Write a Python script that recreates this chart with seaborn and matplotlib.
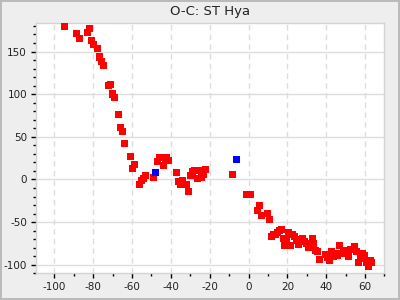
import matplotlib
matplotlib.use("Agg")
import matplotlib.pyplot as plt
import seaborn as sns
import pandas as pd
from matplotlib.ticker import MultipleLocator

# Red (visual) O-C points
red_x = [-94.8, -88.8, -87.2, -83.1, -82.0, -81.0, -80.0, -77.9, -76.9, -75.9, -74.8,
         -72.3, -71.2, -70.2, -69.2, -67.1, -66.1, -65.1, -64.0, -60.9, -59.9, -58.9,
         -56.3, -55.3, -54.2, -53.2, -49.1, -47.0, -46.0, -43.9, -42.9, -42.4, -41.3,
         -37.2, -36.2, -35.2, -34.1, -32.1, -31.0, -30.0, -29.0, -27.9, -26.9, -26.4,
         -25.4, -24.3, -23.3, -22.3, -8.4, -0.9, 1.1, 4.5, 5.6, 6.6, 9.7, 10.7, 11.8,
         12.8, 13.8, 14.8, 15.9, 16.9, 17.9, 18.5, 19.5, 20.5, 21.5, 22.6, 23.6, 24.6,
         25.7, 26.7, 27.7, 28.8, 29.8, 30.8, 32.9, 33.4, 34.4, 35.5, 36.5, 39.6, 40.6,
         41.6, 42.7, 43.7, 44.7, 45.8, 46.8, 47.8, 48.9, 51.4, 52.5, 53.5, 54.5, 55.6,
         56.6, 57.6, 58.7, 59.7, 60.7, 61.8, 62.8, 63.3]
red_y = [179.6, 171.0, 165.0, 172.5, 176.8, 162.8, 158.0, 153.4, 143.6, 138.5, 133.5,
         110.0, 111.2, 100.2, 96.0, 76.1, 60.9, 56.2, 42.1, 26.9, 12.9, 17.6,
         -5.9, -1.2, 1.2, 4.7, 2.3, 21.1, 25.8, 16.4, 22.2, 25.8, 22.2,
         8.2, -2.3, -5.9, -1.2, -5.9, -14.1, 4.7, 9.4, 10.5, 10.5, 1.2,
         10.5, 2.3, 5.9, 11.7, 5.9, -17.6, -17.6, -36.3, -30.4, -42.2, -39.8, -46.8, -66.7,
         -64.4, -64.4, -62.1, -59.7, -58.5, -69.1, -77.3, -69.1, -62.1, -77.3, -64.4, -66.7, -71.4,
         -76.1, -70.3, -69.1, -72.6, -74.9, -79.6, -69.1, -74.9, -83.1, -84.3, -93.7, -87.8, -91.3,
         -94.8, -84.3, -90.2, -86.7, -89.0, -77.3, -86.7, -83.1, -90.2, -82.0, -82.0, -78.5, -84.3,
         -97.2, -92.5, -86.7, -89.0, -97.2, -101.9, -94.8, -97.2]

# Blue points
blue_x = [-48.0, -6.3]
blue_y = [8.2, 23.4]

title = "O-C: ST Hya"

df = pd.DataFrame({
    "E": red_x + blue_x,
    "OC": red_y + blue_y,
    "kind": ["red"] * len(red_x) + ["blue"] * len(blue_x),
})

sns.set_style("white")
plt.rcParams["font.family"] = ["DejaVu Sans"]
plt.rcParams["axes.unicode_minus"] = False

fig = plt.figure(figsize=(4, 3), dpi=100, facecolor="#eeeeee",
                 edgecolor="#bbbbbb", linewidth=1.5)
ax = fig.add_axes([0.09, 0.089, 0.871, 0.833])
ax.set_facecolor("white")

sns.scatterplot(data=df, x="E", y="OC", hue="kind",
                palette={"red": "#ff0000", "blue": "#0000ff"},
                marker="s", s=26, linewidth=0, legend=False, ax=ax, zorder=3)

ax.set_xlim(-109.5, 70)
ax.set_ylim(-110, 183)
ax.xaxis.set_major_locator(MultipleLocator(20))
ax.xaxis.set_minor_locator(MultipleLocator(10))
ax.yaxis.set_major_locator(MultipleLocator(50))
ax.yaxis.set_minor_locator(MultipleLocator(10))

ax.grid(False)
for xv in range(-100, 61, 20):
    ax.axvline(xv, color="#dddddd", lw=1, ls=(0, (4, 3)), zorder=1)
for yv in range(-100, 151, 50):
    ax.axhline(yv, color="#dddddd", lw=1, zorder=1)

ax.tick_params(which="major", direction="out", length=3.5, width=1, color="black",
               labelsize=7.5, labelcolor="#222222", left=True, bottom=True, pad=3)
ax.tick_params(which="minor", direction="out", length=2.5, width=1, color="black",
               left=True, bottom=True)
ax.set_xlabel("")
ax.set_ylabel("")
for sp in ax.spines.values():
    sp.set_color("#d4d4d4")
    sp.set_linewidth(1)

ax.set_title(title, fontsize=9.5, color="#222222", pad=6)

fig.savefig("out.png", dpi=100, facecolor=fig.get_facecolor(),
            edgecolor=fig.get_edgecolor())
